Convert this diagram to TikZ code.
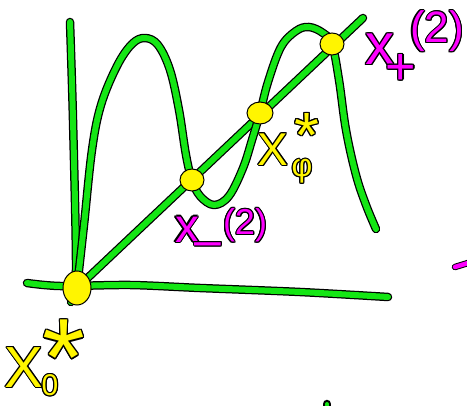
\documentclass[tikz,border=0pt]{standalone}
\usepackage{fontspec}
\setmainfont{Liberation Sans}
\usepackage{contour}
\contourlength{1.2pt}
\contournumber{12}
\usetikzlibrary{positioning,shapes.geometric}
\definecolor{pengreen}{RGB}{20,230,20}
\definecolor{penyellow}{RGB}{255,245,0}
\definecolor{penpink}{RGB}{255,0,255}

\begin{document}
\begin{tikzpicture}[x=1pt,y=-1pt,
  pen/.style={draw=pengreen,line width=6pt,line cap=round,line join=round,
    preaction={draw=black,line width=8.5pt,line cap=round,line join=round}},
  pinkpen/.style={draw=penpink,line width=4.5pt,line cap=round,
    preaction={draw=black,line width=6.5pt,line cap=round}},
  dot/.style={ellipse,draw=black,line width=1pt,fill=penyellow,inner sep=0pt,minimum width=24pt,minimum height=22pt},
  lbly/.style={text=penyellow,inner sep=0pt},
  lblp/.style={text=penpink,inner sep=0pt}]
  \useasboundingbox (0,0) rectangle (467,406);
  % --- fixed points
  \coordinate (o) at (77,288);
  \coordinate (p1) at (192,180);
  \coordinate (p2) at (260,113);
  \coordinate (p3) at (332,44);
  \coordinate (yend) at (70,22);
  \coordinate (xbeg) at (27,283);
  \coordinate (xend) at (388,297);
  \coordinate (dend) at (363,18);
  % --- axes and diagonal
  \draw[pen] plot[smooth] coordinates {(yend) (73,120) (76,270) (71,302)};
  \draw[pen] plot[smooth] coordinates {(xbeg) (60,286) (130,285) (200,288) (300,292) (xend)};
  \draw[pen] (o) -- (dend);
  % --- second iterate
  \draw[pen] plot[smooth,tension=0.6] coordinates {(o) (84,225) (92,150) (101,105) (117,66) (132,44) (145,38)
    (158,45) (170,70) (179,110) (186,155) (p1) (200,196) (214,205) (229,196) (243,168) (252,140) (p2)
    (268,82) (281,47) (296,31) (309,27) (323,33) (p3) (339,80) (346,130) (356,175) (366,205) (376,229)};
  % --- intersections
  \node[dot,minimum width=28pt,minimum height=34pt] (n0) at (o) {};
  \node[dot] (n1) at (p1) {};
  \node[dot,minimum width=26pt] (n2) at (p2) {};
  \node[dot] (n3) at (p3) {};
  % --- labels
  \node[lbly,font=\fontsize{58}{58}\selectfont] (x0) at (24,368) {\contour{black}{X}};
  \node[lbly,font=\fontsize{30}{30}\selectfont] (x0sub) at (50,386) {\contour{black}{0}};
  \node[lbly,font=\fontsize{110}{110}\selectfont,anchor=north] (x0sup) at (64,320) {\contour{black}{*}};
  \node[lbly,font=\fontsize{46}{46}\selectfont] (xs) at (273,150) {\contour{black}{X}};
  \node[lbly,font=\fontsize{32}{32}\selectfont] (xssub) at (302,172) {\contour{black}{φ}};
  \node[lbly,font=\fontsize{64}{64}\selectfont,anchor=north] (xssup) at (307,113) {\contour{black}{*}};
  \node[lblp,font=\fontsize{48}{48}\selectfont] (xm) at (187,230) {\contour{black}{x}};
  \node[lblp,font=\fontsize{48}{48}\selectfont] (xmsub) at (208,250) {\contour{black}{–}};
  \node[lblp,font=\fontsize{36}{36}\selectfont] (xmsup) at (245,226) {\contour{black}{(2)}};
  \node[lblp,font=\fontsize{58}{58}\selectfont] (xp) at (380,50) {\contour{black}{x}};
  \node[lblp,font=\fontsize{52}{52}\selectfont] (xpsub) at (401,70) {\contour{black}{+}};
  \node[lblp,font=\fontsize{44}{44}\selectfont] (xpsup) at (437,32) {\contour{black}{(2)}};
  % --- stray marks
  \coordinate (m1) at (455,267);
  \coordinate (m2) at (468,263);
  \draw[pinkpen] (m1) -- (m2);
  \coordinate (g1) at (327,404);
  \draw[pen,line width=4pt] (g1) -- (327,408);
\end{tikzpicture}
\end{document}
